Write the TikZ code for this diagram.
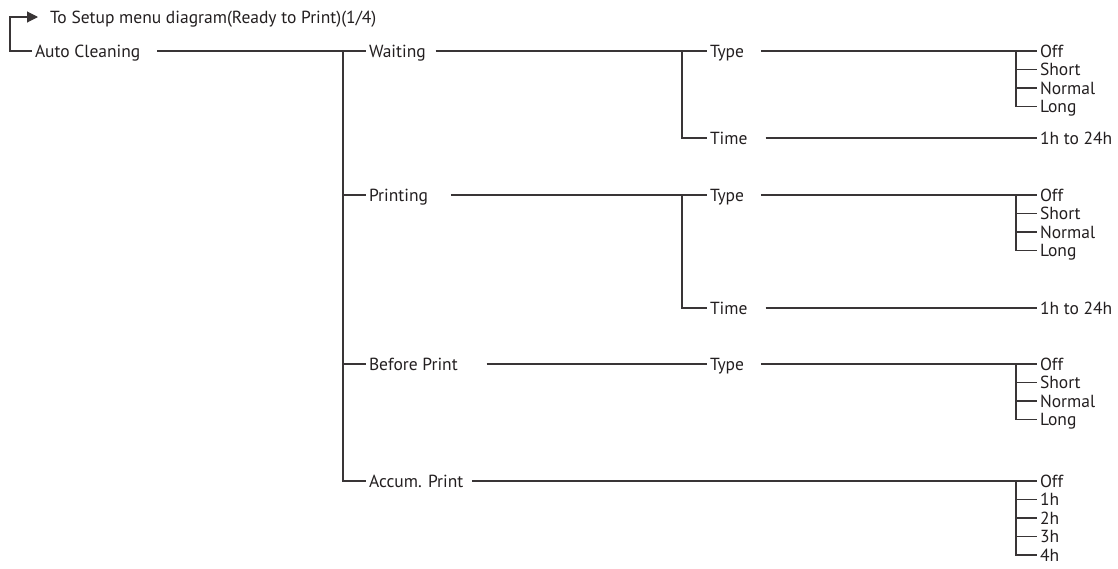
\documentclass[tikz,border=0pt]{standalone}
\usepackage{fontspec}
\setmainfont{PT Sans}
\usetikzlibrary{arrows.meta}
\definecolor{cink}{HTML}{231F20}
\tikzset{
  every picture/.style={font=\fontsize{17.5}{20}\selectfont, line width=1.1pt, x=1pt, y=-1pt},
  item/.style={anchor=west, inner sep=0pt, outer xsep=3pt, text height=12pt, text depth=0pt, text=cink},
  link/.style={draw=cink!90},
  arrow/.style={-{Triangle[length=11pt, width=11pt]}, draw=cink!90, shorten >=9pt},
}

\begin{document}
\begin{tikzpicture}
  \useasboundingbox (0,0) rectangle (1118,568);
  % menu items
  \node[item] (setup) at (47,17) {To Setup menu diagram(Ready to Print)(1/4)};
  \node[item] (ac) at (32,51) {Auto Cleaning};
  \node[item] (wait) at (366,51) {Waiting};
  \node[item] (print) at (366,195) {Printing};
  \node[item] (before) at (366,364) {Before Print};
  \node[item] (accum) at (366,481) {Accum. Print};
  \node[item] (wtype) at (707,51) {Type};
  \node[item] (wtime) at (707,138) {Time};
  \node[item] (ptype) at (707,195) {Type};
  \node[item] (ptime) at (707,308) {Time};
  \node[item] (btype) at (707,364) {Type};
  % values
  \node[item] (w1) at (1037,51) {Off};
  \node[item] (w2) at (1037,69.5) {Short};
  \node[item] (w3) at (1037,88) {Normal};
  \node[item] (w4) at (1037,106.5) {Long};
  \node[item] (wt) at (1037,138) {1h to 24h};
  \node[item] (p1) at (1037,195) {Off};
  \node[item] (p2) at (1037,213.5) {Short};
  \node[item] (p3) at (1037,232) {Normal};
  \node[item] (p4) at (1037,250.5) {Long};
  \node[item] (pt) at (1037,308) {1h to 24h};
  \node[item] (b1) at (1037,364) {Off};
  \node[item] (b2) at (1037,382.5) {Short};
  \node[item] (b3) at (1037,401) {Normal};
  \node[item] (b4) at (1037,419.5) {Long};
  \node[item] (a1) at (1037,481) {Off};
  \node[item] (a2) at (1037,499.5) {1h};
  \node[item] (a3) at (1037,518) {2h};
  \node[item] (a4) at (1037,536.5) {3h};
  \node[item] (a5) at (1037,555) {4h};
  % junctions
  \coordinate (trunk) at (343,51);
  \coordinate (wj) at (682,51);
  \coordinate (pj) at (682,195);
  \coordinate (wv) at (1016,51);
  \coordinate (pv) at (1016,195);
  \coordinate (bv) at (1016,364);
  \coordinate (av) at (1016,481);
  % back to setup menu
  \draw[arrow] (ac.west) -- ++(-22,0) |- (setup.west);
  % level 1
  \draw[link] ([xshift=14pt]ac.east) -- (wait.west);
  \draw[link] (trunk) |- (accum.west);
  \draw[link] (trunk |- print) -- (print.west);
  \draw[link] (trunk |- before) -- (before.west);
  % level 2
  \draw[link] ([xshift=7pt]wait.east) -- (wtype.west);
  \draw[link] (wj) |- (wtime.west);
  \draw[link] ([xshift=20pt]print.east) -- (ptype.west);
  \draw[link] (pj) |- (ptime.west);
  \draw[link] ([xshift=26pt]before.east) -- (btype.west);
  \draw[link] ([xshift=6pt]accum.east) -- (a1.west);
  % level 3
  \draw[link] ([xshift=14pt]wtype.east) -- (w1.west);
  \draw[link] (wv) |- (w4.west);
  \draw[link] (wv |- w2) -- (w2.west);
  \draw[link] (wv |- w3) -- (w3.west);
  \draw[link] ([xshift=15pt]wtime.east) -- (wt.west);
  \draw[link] ([xshift=14pt]ptype.east) -- (p1.west);
  \draw[link] (pv) |- (p4.west);
  \draw[link] (pv |- p2) -- (p2.west);
  \draw[link] (pv |- p3) -- (p3.west);
  \draw[link] ([xshift=15pt]ptime.east) -- (pt.west);
  \draw[link] ([xshift=14pt]btype.east) -- (b1.west);
  \draw[link] (bv) |- (b4.west);
  \draw[link] (bv |- b2) -- (b2.west);
  \draw[link] (bv |- b3) -- (b3.west);
  \draw[link] (av) |- (a5.west);
  \draw[link] (av |- a2) -- (a2.west);
  \draw[link] (av |- a3) -- (a3.west);
  \draw[link] (av |- a4) -- (a4.west);
\end{tikzpicture}
\end{document}
